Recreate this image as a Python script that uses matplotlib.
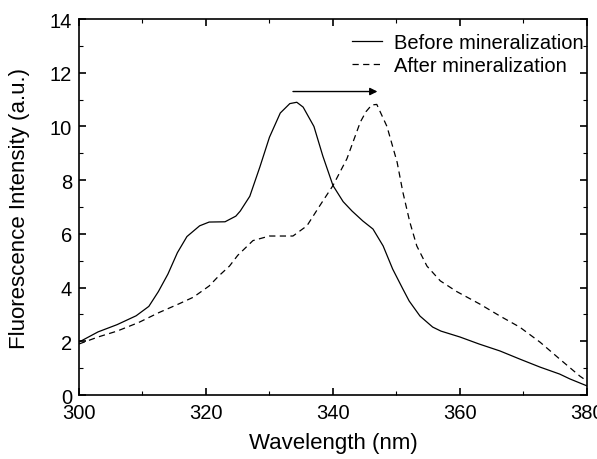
import matplotlib.pyplot as plt
import numpy as np
from matplotlib.ticker import MultipleLocator

plt.rcParams['font.family'] = ['Liberation Sans', 'DejaVu Sans']

# before mineralization (solid)
wl_before = [300, 303, 306, 309, 311, 312.5, 314, 315.5, 317, 319, 320.5, 323, 324.7,
             325.4, 326.9, 328.5, 330, 331.7, 333.2, 334.3, 335.3, 337, 338.4, 340, 341.6,
             343, 344.7, 346.3, 347.9, 349.4, 351, 352, 353.7, 355.7, 357, 360, 363,
             366.3, 369.4, 372.6, 375.7, 377.3, 380]
int_before = [1.97, 2.35, 2.62, 2.95, 3.3, 3.85, 4.5, 5.3, 5.9, 6.3, 6.44, 6.45, 6.66,
              6.85, 7.4, 8.5, 9.6, 10.5, 10.85, 10.9, 10.72, 10.0, 8.9, 7.8, 7.2,
              6.85, 6.48, 6.18, 5.55, 4.69, 3.95, 3.5, 2.94, 2.53, 2.38, 2.16, 1.9,
              1.64, 1.34, 1.04, 0.78, 0.6, 0.34]

# after mineralization (dashed)
wl_after = [300, 303, 306, 309.4, 312.6, 315.7, 318, 320.5, 322, 323.7, 325, 327.4,
            330, 333.7, 335.9, 337.9, 340, 342.2, 344.3, 345.2, 346.1, 346.9, 348.5,
            350.1, 351, 352.1, 353.2, 354.8, 356.9, 359.5, 363.1, 366.3, 369.4,
            372.6, 375.7, 378.9, 380]
int_after = [1.9, 2.16, 2.38, 2.7, 3.07, 3.39, 3.64, 4.06, 4.43, 4.8, 5.2, 5.75,
             5.92, 5.92, 6.3, 7.04, 7.8, 8.8, 10.16, 10.55, 10.8, 10.82, 10.0,
             8.67, 7.56, 6.44, 5.55, 4.8, 4.25, 3.85, 3.39, 2.94, 2.53,
             1.97, 1.34, 0.7, 0.52]

arrow_from = (333.7, 11.3)
arrow_to = (347.0, 11.3)

fig = plt.figure(figsize=(5.97, 4.6), dpi=100)
ax = fig.add_axes([0.1323, 0.1391, 0.8509, 0.8174])

ax.plot(wl_before, int_before, color='black', lw=0.9, label='Before mineralization')
ax.plot(wl_after, int_after, color='black', lw=0.9, linestyle=(0, (5, 3.5)),
        label='After mineralization')

ax.annotate('', xy=arrow_to, xytext=arrow_from,
            arrowprops=dict(arrowstyle='-|>', color='black', lw=1.0,
                            mutation_scale=11, shrinkA=0, shrinkB=0))

ax.set_xlim(300, 380)
ax.set_ylim(0, 14)
ax.xaxis.set_major_locator(MultipleLocator(20))
ax.xaxis.set_minor_locator(MultipleLocator(10))
ax.yaxis.set_major_locator(MultipleLocator(2))
ax.yaxis.set_minor_locator(MultipleLocator(1))
ax.tick_params(which='both', direction='in', top=True, right=True, labelsize=14.5)
ax.tick_params(which='major', length=5, width=1.2)
ax.tick_params(which='minor', length=3, width=0.8)
ax.tick_params(axis='x', pad=6)
ax.tick_params(axis='y', pad=5)
for s in ax.spines.values():
    s.set_linewidth(1.2)

ax.set_xlabel('Wavelength (nm)', fontsize=16, labelpad=7)
ax.set_ylabel('Fluorescence Intensity (a.u.)', fontsize=16, labelpad=14)

leg = ax.legend(loc='upper left', bbox_to_anchor=(0.517, 0.99), frameon=False,
                fontsize=14.5, handlelength=1.5, handletextpad=0.6,
                borderpad=0, labelspacing=0.2)

fig.savefig('out.png', dpi=100)
